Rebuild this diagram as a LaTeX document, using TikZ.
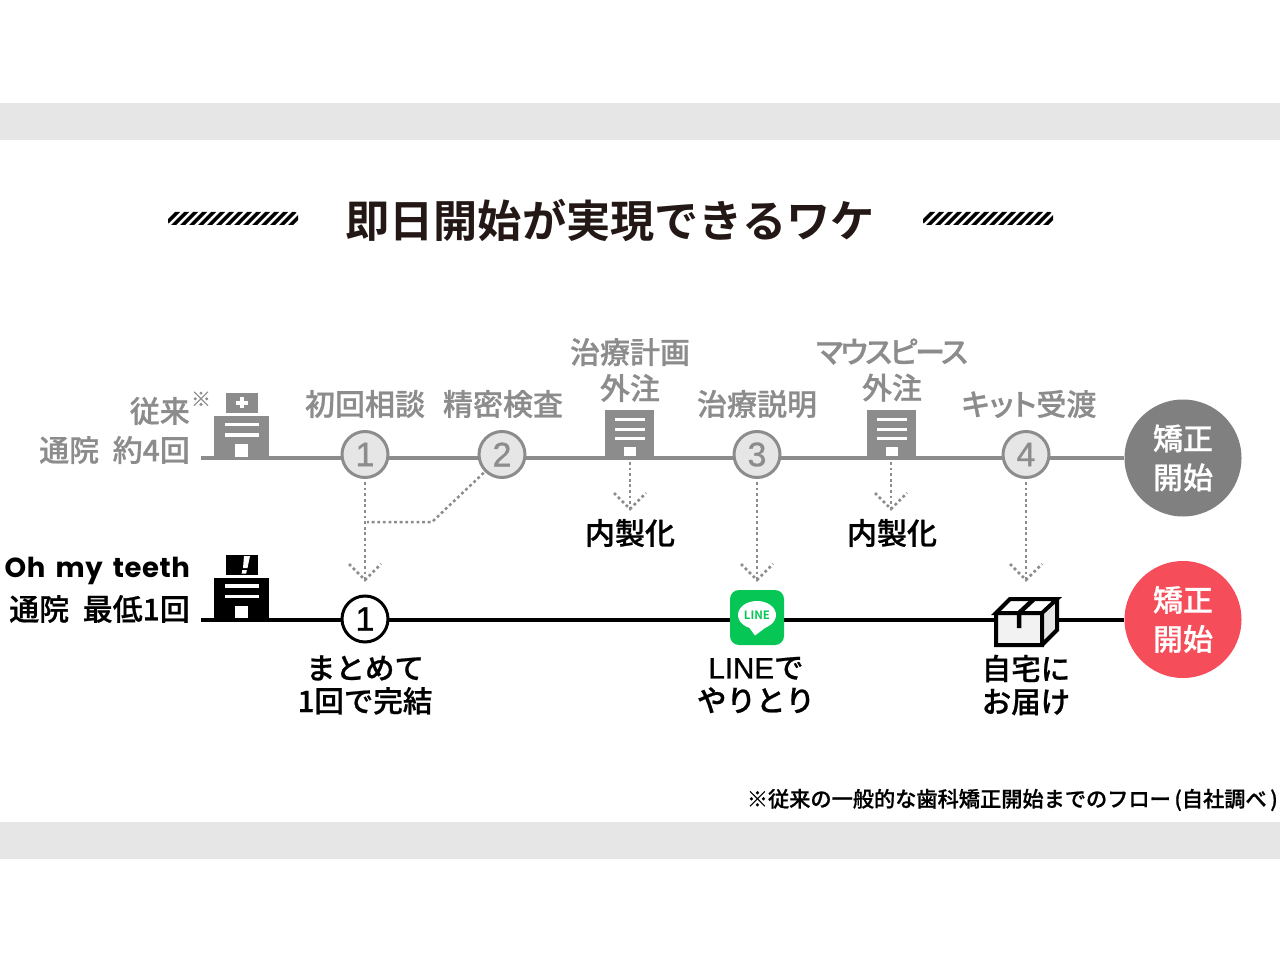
\documentclass[tikz,border=0pt]{standalone}
\usepackage{fontspec}
\setmainfont{Noto Sans CJK JP Medium}[FakeBold=0.7]
\newfontfamily\palfont{Noto Sans CJK JP Medium}[RawFeature=+palt,FakeBold=0.7]
\newfontfamily\tightfont{Noto Sans CJK JP Medium}[RawFeature=+palt,FakeBold=0.7,LetterSpace=-8]
\newfontfamily\titlefont{Noto Sans CJK JP Bold}
\newfontfamily\ohfont{Poppins}[LetterSpace=2,WordSpace=1.6]
\newfontfamily\numfont{Liberation Sans}[FakeBold=0.9]
\usetikzlibrary{backgrounds}
\definecolor{bandgray}{HTML}{E6E6E6}
\definecolor{stepgray}{HTML}{8C8C8C}
\definecolor{biggray}{HTML}{808080}
\definecolor{bigred}{HTML}{F54E5A}
\definecolor{linegreen}{HTML}{06C755}
\definecolor{inkblack}{HTML}{231815}
\tikzset{
  x=1pt,y=-1pt,
  band/.style={fill=bandgray,draw=none},
  graylabel/.style={text=stepgray,font=\fontsize{30}{36}\selectfont,align=center,inner sep=0pt},
  blacklabel/.style={text=black,font=\fontsize{29.5}{33}\selectfont,align=center,inner sep=0pt},
  sidegray/.style={text=stepgray,font=\fontsize{30}{30}\selectfont,anchor=east,inner sep=0pt},
  sideblack/.style={text=black,font=\fontsize{30}{30}\selectfont,anchor=east,inner sep=0pt},
  graystep/.style={circle,draw=stepgray,line width=3pt,fill=bandgray,minimum size=46pt,inner sep=0pt,text=stepgray,font=\numfont\fontsize{34}{34}\selectfont},
  blackstep/.style={circle,draw=black,line width=3pt,fill=white,minimum size=46pt,inner sep=0pt,text=black,font=\numfont\fontsize{34}{34}\selectfont},
  bigcircle/.style={circle,minimum size=117pt,inner sep=0pt,text=white,align=center,font=\fontsize{30}{39}\selectfont},
  grayline/.style={draw=stepgray,line width=4pt},
  blackline/.style={draw=black,line width=4pt},
  dotline/.style={draw=stepgray,line width=2.5pt,dash pattern=on 2.8pt off 2.8pt},
}
\newcommand{\hospital}[2]{%
  \fill[#1] (214,416+#2) rectangle (269,458+#2);
  \fill[#1] (226,393+#2) rectangle (258,413+#2);
  \fill[white] (225,422.5+#2) rectangle (259,426+#2);
  \fill[white] (225,433+#2) rectangle (259,436.5+#2);
  \fill[white] (235,444+#2) rectangle (248,456.5+#2);
}
\newcommand{\factory}[1]{%
  \fill[stepgray] (#1-25,410) rectangle (#1+24,458);
  \fill[white] (#1-15,418) rectangle (#1+15,421);
  \fill[white] (#1-15,427.5) rectangle (#1+15,430.5);
  \fill[white] (#1-15,437) rectangle (#1+15,440);
  \fill[white] (#1-6,447) rectangle (#1+6,456);
}
\newcommand{\hatchbar}[1]{%
  \begin{scope}
    \clip[rounded corners=3pt] (#1,212) rectangle (#1+130,225);
    \foreach \k in {0,...,15}{
      \fill[black] (#1-6+\k*9,225) -- (#1-1+\k*9,225) -- (#1+12+\k*9,212) -- (#1+7+\k*9,212) -- cycle;
    }
  \end{scope}
}
\begin{document}
\begin{tikzpicture}
\useasboundingbox (0,0) rectangle (1280,960);
\fill[band] (0,103) rectangle (1280,140);
\fill[band] (0,822) rectangle (1280,859);

\hatchbar{168}
\hatchbar{923}
\node[text=inkblack,inner sep=0pt,font=\titlefont\fontsize{44.2}{44}\selectfont] (title) at (610,220) {即日開始が実現できるワケ};

% timeline anchors
\coordinate (startA) at (201,458);
\coordinate (startB) at (201,619.5);

% upper row
\node[bigcircle,fill=biggray] (bigA) at (1183,458) {矯正\\開始};
\node[bigcircle,fill=bigred] (bigB) at (1183,619.5) {矯正\\開始};
\hospital{stepgray}{0}
\fill[white] (236,400.5) rectangle (248,404.5);
\fill[white] (240,397) rectangle (244,408);
\factory{630}
\factory{892}
\node[graystep] (c1) at (365,454.5) {1};
\node[graystep] (c2) at (502,454.5) {2};
\node[graystep] (c3) at (757,454.5) {3};
\node[graystep] (c4) at (1026,454.5) {4};

\node[sidegray] (old1) at (190,411) {従来};
\node[text=stepgray,inner sep=0pt,font=\fontsize{20}{20}\selectfont] (oldmark) at (201,399) {※};
\node[sidegray] (old2) at (190,450) {通院\ \ 約4回};
\node[graylabel] (l1) at (365,404) {初回相談};
\node[graylabel] (l2) at (503,404) {精密検査};
\node[graylabel] (l3) at (630,370) {治療計画\\外注};
\node[graylabel] (l5) at (892,370) {{\tightfont マウスピース}\\外注};
\node[graylabel] (l4) at (757,404) {治療説明};
\node[graylabel,font=\palfont\fontsize{30}{36}\selectfont] (l6) at (1029,404) {キット受渡};

% lower row
\hospital{black}{161.5}
\fill[white] (244,556) -- (250,556) -- (247.5,568) -- (243,568) -- cycle;
\fill[white] (242.3,570) -- (246.8,570) -- (246.2,573.5) -- (241.7,573.5) -- cycle;
\node[blackstep] (d1) at (365,619) {1};

% LINE icon
\node[fill=linegreen,rounded corners=9pt,minimum width=54pt,minimum height=55pt,inner sep=0pt] (lineicon) at (757,617.5) {};
\fill[white] (757,615) ellipse [x radius=19,y radius=14];
\fill[white] (748,626) -- (755,635.5) -- (769,625) -- cycle;
\node[text=linegreen,inner sep=0pt,font=\titlefont\fontsize{11.5}{11.5}\selectfont] (linetext) at (757,615) {LINE};

% box icon
\coordinate (boxicon) at (1026,622);
\fill[white] (996,613) -- (1010,599) -- (1057,599) -- (1042,613) -- cycle;
\fill[bandgray] (1042,613) -- (1057,599) -- (1057,630) -- (1042,645) -- cycle;
\fill[white!95!black] (996,613) rectangle (1042,645);
\draw[black,line width=4pt,line join=miter] (996,613) -- (1010,599) -- (1057,599) -- (1042,613) -- cycle
  (996,613) -- (996,645) -- (1042,645) -- (1042,613)
  (1057,599) -- (1057,630) -- (1042,645);
\draw[black,line width=4.5pt] (1019,628) -- (1019,613) -- (1034,599);

% text below and around
\node[sideblack,font=\ohfont\bfseries\fontsize{27.5}{30}\selectfont] (oh1) at (190,571) {Oh my teeth};
\node[sideblack] (oh2) at (190,609) {通院\ \ 最低1回};
\node[blacklabel] (t1) at (365,685) {まとめて\\1回で完結};
\node[blacklabel] (t2) at (756,685) {{\numfont LINE}で\\やりとり};
\node[blacklabel] (t3) at (1026,685) {自宅に\\お届け};
\node[blacklabel,font=\fontsize{30}{30}\selectfont] (in1) at (630,533) {内製化};
\node[blacklabel,font=\fontsize{30}{30}\selectfont] (in2) at (892,533) {内製化};
\node[text=black,inner sep=0pt,anchor=east,font=\fontsize{21.2}{21}\selectfont] (note) at (1278,800) {※従来の一般的な歯科矯正開始までのフロー\,(自社調べ\,)};

% dotted connectors
\coordinate (tipA) at (365,580);
\coordinate (tipB) at (630,509);
\coordinate (tipC) at (757,580);
\coordinate (tipD) at (891,509);
\coordinate (tipE) at (1026,580);
\coordinate (bend) at (432,522);
\coordinate (join) at (367,522);
\draw[dotline] (c1.south) ++(0,3) -- (tipA);
\draw[dotline] (tipA) ++(-16,-16) -- (tipA) -- ++(16,-16);
\draw[dotline] (c2.south west) ++(-1,1) -- (bend) -- (join);
\draw[dotline] (630,462) -- (tipB);
\draw[dotline] (tipB) ++(-16,-16) -- (tipB) -- ++(16,-16);
\draw[dotline] (c3.south) ++(0,3) -- (tipC);
\draw[dotline] (tipC) ++(-16,-16) -- (tipC) -- ++(16,-16);
\draw[dotline] (891,462) -- (tipD);
\draw[dotline] (tipD) ++(-16,-16) -- (tipD) -- ++(16,-16);
\draw[dotline] (c4.south) ++(0,3) -- (tipE);
\draw[dotline] (tipE) ++(-16,-16) -- (tipE) -- ++(16,-16);

\begin{scope}[on background layer]
  \draw[grayline] (startA) -- (bigA);
  \draw[blackline] (startB) -- (bigB);
\end{scope}
\end{tikzpicture}
\end{document}
